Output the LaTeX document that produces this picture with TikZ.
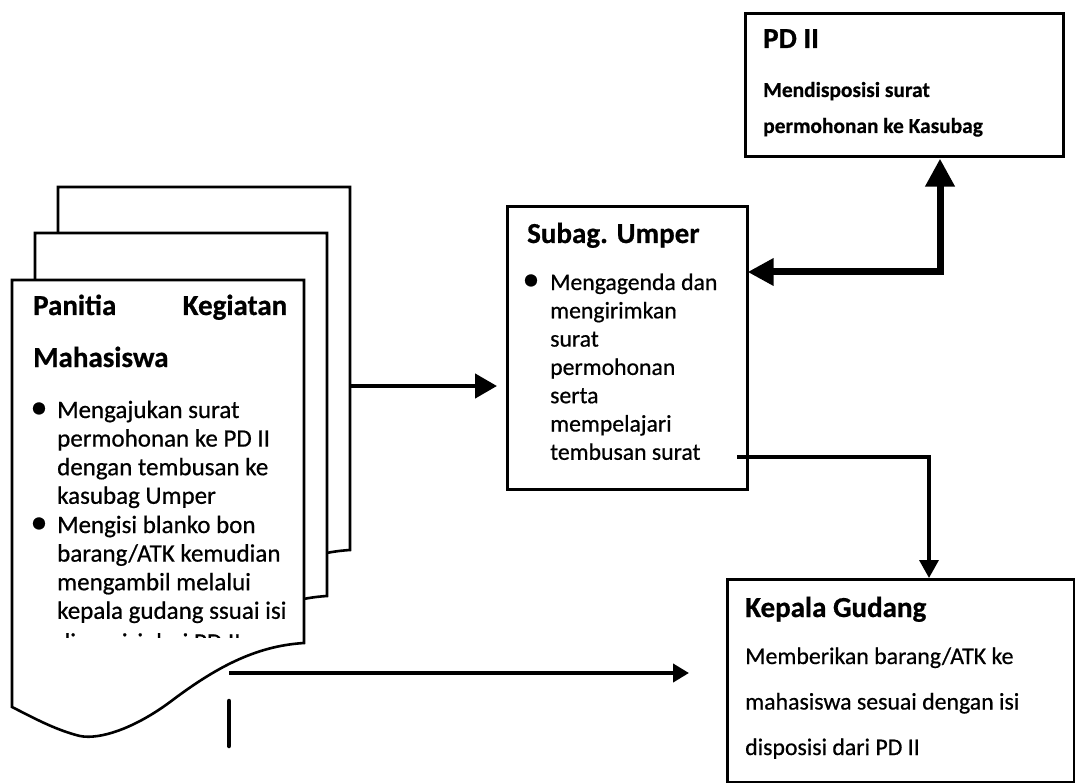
\documentclass[tikz,border=0pt]{standalone}
\usepackage{fontspec}
\setmainfont{Carlito}[FakeBold=0.6]
\usetikzlibrary{arrows.meta}

\begin{document}
\begin{tikzpicture}[x=1pt,y=-1pt,
  box/.style={draw=black, line width=2.6pt, fill=white, inner sep=0pt, anchor=north west},
  sheet/.style={draw=black, line width=2.6pt, fill=white, line join=miter},
  hd/.style={font=\bfseries\fontsize{29}{34}\selectfont, anchor=base west, inner sep=0pt},
  % multi-line blocks are anchored at the baseline of their last line
  txt/.style={anchor=base west, inner sep=0pt, align=left},
  docbody/.style={txt, font=\fontsize{25}{28.6}\selectfont},
  subbody/.style={txt, font=\fontsize{23.7}{28.3}\selectfont},
  pdbody/.style={txt, font=\bfseries\fontsize{21.4}{36}\selectfont},
  kgbody/.style={txt, font=\fontsize{23.8}{45.5}\selectfont},
  dot/.style={anchor=base, inner sep=0pt, font=\fontsize{34}{34}\selectfont},
  arrA/.style={line width=4.5pt, -{Triangle[length=22pt,width=24pt]}},
  arrB/.style={line width=7pt, line join=miter, {Triangle[length=26pt,width=26pt]}-{Triangle[length=28pt,width=28pt]}},
  arrC/.style={line width=3.5pt, line join=miter, -{Triangle[length=18pt,width=19pt]}},
  arrD/.style={line width=4pt, -{Triangle[length=16pt,width=18pt]}},
  stub/.style={line width=4.5pt, line cap=round}
]
\useasboundingbox (0,0) rectangle (1075,783);
\fill[white] (0,0) rectangle (1075,783);

% stack of three sheets with a wavy lower edge
\def\sheetpath{(12,280) -- (304,280) -- (304,643)
  .. controls (255,646) and (215,668) .. (170,702)
  .. controls (135,728) and (100,740) .. (80,736)
  .. controls (55,730) and (30,716) .. (12,707) -- cycle}
\draw[sheet, shift={(46,-93)}] \sheetpath;
\draw[sheet, shift={(23,-47)}] \sheetpath;
\draw[sheet] \sheetpath;

% text of the front sheet
\node[hd, text width=254pt, align=justify] (fdh) at (33,315) {Panitia\hfill Kegiatan};
\node[hd] (fdm) at (33,367) {Mahasiswa};
\node[dot] (fb1) at (39,418) {\textbullet};
\node[docbody] (fd1) at (57,503.8) {Mengajukan surat\\permohonan ke PD II\\dengan tembusan ke\\kasubag Umper};
\node[dot] (fb2) at (39,533) {\textbullet};
\node[docbody] (fd2) at (57,618.8) {Mengisi blanko bon\\barang/ATK kemudian\\mengambil melalui\\kepala gudang ssuai isi};
% the last line is cut off by the sheet's text frame
\begin{scope}
  \clip (0,600) rectangle (310,637.5);
  \node[docbody] (fd3) at (57,650.5) {disposisi dari PD II};
\end{scope}

% PD II
\node[box, minimum width=318pt, minimum height=143pt] (pd) at (744,12) {};
\node[hd] (pdh) at (763,48) {PD II};
\node[pdbody] (pdt) at (763,133) {Mendisposisi surat\\permohonan ke Kasubag};

% Subag. Umper
\node[box, minimum width=240pt, minimum height=283pt] (sub) at (506,205) {};
\node[hd] (subh) at (527,243) {Subag. Umper};
\node[dot] (subb) at (531,290) {\textbullet};
\node[subbody] (subt) at (550,459.8) {Mengagenda dan\\mengirimkan\\surat\\permohonan\\serta\\mempelajari\\tembusan surat};

% Kepala Gudang
\node[box, minimum width=347pt, minimum height=203pt] (kg) at (726,578) {};
\node[hd] (kgh) at (745,617) {Kepala Gudang};
\node[kgbody] (kgt) at (745,755) {Memberikan barang/ATK ke\\mahasiswa sesuai dengan isi\\disposisi dari PD II};

% connectors
\coordinate (a1s) at (350,386);
\draw[arrA] (a1s) -- (sub.west |- a1s) [shorten >=9pt];
\coordinate (a2) at (940,272);
\draw[arrB, shorten <=-1pt, shorten >=1pt] (sub.east |- a2) -- (a2) -- (a2 |- pd.south);
\coordinate (a3s) at (737,457);
\coordinate (a3c) at (929,457);
\draw[arrC] (a3s) -- (a3c) -- (a3c |- kg.north);
\coordinate (a4s) at (229,673);
\coordinate (a4e) at (689,673);
\draw[arrD] (a4s) -- (a4e);
\coordinate (s1) at (229,701);
\coordinate (s2) at (229,746);
\draw[stub] (s1) -- (s2);
\end{tikzpicture}
\end{document}
